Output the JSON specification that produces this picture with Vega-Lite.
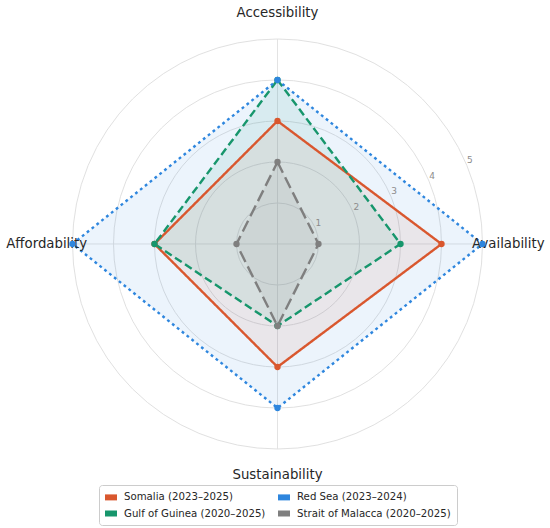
{
  "$schema": "https://vega.github.io/schema/vega-lite/v6.json",
  "width": 550,
  "height": 528,
  "autosize": "none",
  "padding": 0,
  "background": "white",
  "datasets": {
    "scores": [
      {"series": "Somalia (2023–2025)", "axis": "Accessibility", "value": 3},
      {"series": "Somalia (2023–2025)", "axis": "Availability", "value": 4},
      {"series": "Somalia (2023–2025)", "axis": "Sustainability", "value": 3},
      {"series": "Somalia (2023–2025)", "axis": "Affordability", "value": 3},
      {"series": "Gulf of Guinea (2020–2025)", "axis": "Accessibility", "value": 4},
      {"series": "Gulf of Guinea (2020–2025)", "axis": "Availability", "value": 3},
      {"series": "Gulf of Guinea (2020–2025)", "axis": "Sustainability", "value": 2},
      {"series": "Gulf of Guinea (2020–2025)", "axis": "Affordability", "value": 3},
      {"series": "Red Sea (2023–2024)", "axis": "Accessibility", "value": 4},
      {"series": "Red Sea (2023–2024)", "axis": "Availability", "value": 5},
      {"series": "Red Sea (2023–2024)", "axis": "Sustainability", "value": 4},
      {"series": "Red Sea (2023–2024)", "axis": "Affordability", "value": 5},
      {"series": "Strait of Malacca (2020–2025)", "axis": "Accessibility", "value": 2},
      {"series": "Strait of Malacca (2020–2025)", "axis": "Availability", "value": 1},
      {"series": "Strait of Malacca (2020–2025)", "axis": "Sustainability", "value": 2},
      {"series": "Strait of Malacca (2020–2025)", "axis": "Affordability", "value": 1}
    ],
    "grid": [{"r": 1}, {"r": 2}, {"r": 3}, {"r": 4}, {"r": 5}],
    "axes": [
      {"axis": "Accessibility"},
      {"axis": "Availability"},
      {"axis": "Sustainability"},
      {"axis": "Affordability"}
    ]
  },
  "layer": [
    {
      "data": {"name": "grid"},
      "mark": {"type": "point", "shape": "circle", "filled": false, "stroke": "#dcdcdc", "strokeWidth": 0.9, "opacity": 1},
      "encoding": {
        "x": {"datum": 0, "type": "quantitative", "scale": {"domain": [-6.768, 6.646], "nice": false, "zero": false}, "axis": null},
        "y": {"datum": 0, "type": "quantitative", "scale": {"domain": [-6.927, 5.951], "nice": false, "zero": false}, "axis": null},
        "size": {"field": "r", "type": "quantitative", "scale": {"type": "pow", "exponent": 2, "domain": [0, 5], "range": [0, 168100]}, "legend": null}
      }
    },
    {
      "data": {"name": "axes"},
      "transform": [
        {"calculate": "indexof(['Accessibility','Availability','Sustainability','Affordability'], datum.axis)", "as": "idx"},
        {"calculate": "PI/2 - datum.idx*PI/2", "as": "ang"},
        {"calculate": "5*cos(datum.ang)", "as": "ex"},
        {"calculate": "5*sin(datum.ang)", "as": "ey"}
      ],
      "mark": {"type": "rule", "stroke": "#e0e0e0", "strokeWidth": 0.9},
      "encoding": {
        "x": {"field": "ex", "type": "quantitative"},
        "y": {"field": "ey", "type": "quantitative"},
        "x2": {"datum": 0},
        "y2": {"datum": 0}
      }
    },
    {
      "data": {"name": "scores"},
      "transform": [
        {"calculate": "indexof(['Accessibility','Availability','Sustainability','Affordability'], datum.axis)", "as": "idx"},
        {"calculate": "PI/2 - datum.idx*PI/2", "as": "ang"},
        {"calculate": "datum.value*cos(datum.ang)", "as": "px"},
        {"calculate": "datum.value*sin(datum.ang)", "as": "py"}
      ],
      "mark": {"type": "line", "interpolate": "linear-closed", "filled": true, "strokeWidth": 0, "fillOpacity": 0.09},
      "encoding": {
        "x": {"field": "px", "type": "quantitative"},
        "y": {"field": "py", "type": "quantitative"},
        "order": {"field": "idx", "type": "quantitative"},
        "color": {
          "field": "series", "type": "nominal",
          "scale": {"domain": ["Somalia (2023–2025)", "Red Sea (2023–2024)", "Gulf of Guinea (2020–2025)", "Strait of Malacca (2020–2025)"], "range": ["#d9572e", "#2e86de", "#17966c", "#7f7f7f"]}
        }
      }
    },
    {
      "data": {"name": "scores"},
      "transform": [
        {"calculate": "indexof(['Accessibility','Availability','Sustainability','Affordability'], datum.axis)", "as": "idx"},
        {"calculate": "PI/2 - datum.idx*PI/2", "as": "ang"},
        {"calculate": "datum.value*cos(datum.ang)", "as": "px"},
        {"calculate": "datum.value*sin(datum.ang)", "as": "py"},
        {"calculate": "datum.series", "as": "style"}
      ],
      "mark": {"type": "line", "interpolate": "linear-closed", "strokeWidth": 2.4},
      "encoding": {
        "x": {"field": "px", "type": "quantitative"},
        "y": {"field": "py", "type": "quantitative"},
        "order": {"field": "idx", "type": "quantitative"},
        "color": {
          "field": "series", "type": "nominal",
          "scale": {"domain": ["Somalia (2023–2025)", "Red Sea (2023–2024)", "Gulf of Guinea (2020–2025)", "Strait of Malacca (2020–2025)"], "range": ["#d9572e", "#2e86de", "#17966c", "#7f7f7f"]}
        },
        "strokeDash": {
          "field": "style", "type": "nominal", "legend": null,
          "scale": {"domain": ["Somalia (2023–2025)", "Red Sea (2023–2024)", "Gulf of Guinea (2020–2025)", "Strait of Malacca (2020–2025)"], "range": [[1, 0], [2.8, 3.4], [8, 4], [12, 5]]}
        }
      }
    },
    {
      "data": {"name": "axes"},
      "transform": [
        {"calculate": "indexof(['Accessibility','Availability','Sustainability','Affordability'], datum.axis)", "as": "idx"},
        {"calculate": "PI/2 - datum.idx*PI/2", "as": "ang"},
        {"calculate": "5.63*cos(datum.ang)", "as": "lx"},
        {"calculate": "5.63*sin(datum.ang)", "as": "ly"}
      ],
      "mark": {"type": "text", "font": "DejaVu Sans", "fontSize": 13.3, "color": "#262626", "align": "center", "baseline": "middle"},
      "encoding": {
        "x": {"field": "lx", "type": "quantitative"},
        "y": {"field": "ly", "type": "quantitative"},
        "text": {"field": "axis", "type": "nominal"}
      }
    },
    {
      "data": {"name": "grid"},
      "transform": [
        {"calculate": "datum.r*cos(PI/8)", "as": "tx"},
        {"calculate": "datum.r*sin(PI/8)", "as": "ty"}
      ],
      "mark": {"type": "text", "font": "DejaVu Sans", "fontSize": 9, "color": "#8c8c8c", "align": "center", "baseline": "middle", "dx": 3, "dy": -5.5},
      "encoding": {
        "x": {"field": "tx", "type": "quantitative"},
        "y": {"field": "ty", "type": "quantitative"},
        "text": {"field": "r", "type": "quantitative"}
      }
    },
    {
      "data": {"name": "scores"},
      "transform": [
        {"calculate": "indexof(['Accessibility','Availability','Sustainability','Affordability'], datum.axis)", "as": "idx"},
        {"calculate": "PI/2 - datum.idx*PI/2", "as": "ang"},
        {"calculate": "datum.value*cos(datum.ang)", "as": "px"},
        {"calculate": "datum.value*sin(datum.ang)", "as": "py"}
      ],
      "mark": {"type": "circle", "size": 40, "opacity": 1},
      "encoding": {
        "x": {"field": "px", "type": "quantitative"},
        "y": {"field": "py", "type": "quantitative"},
        "color": {
          "field": "series", "type": "nominal",
          "scale": {"domain": ["Somalia (2023–2025)", "Red Sea (2023–2024)", "Gulf of Guinea (2020–2025)", "Strait of Malacca (2020–2025)"], "range": ["#d9572e", "#2e86de", "#17966c", "#7f7f7f"]},
          "legend": {
            "orient": "none",
            "direction": "horizontal",
            "legendX": 99,
            "legendY": 485,
            "columns": 2,
            "title": null,
            "symbolType": "M-1,-0.5H1V0.5H-1Z",
            "symbolSize": 144,
            "symbolOpacity": 1,
            "symbolStrokeWidth": 0,
            "labelFont": "DejaVu Sans",
            "labelFontSize": 10.2,
            "labelColor": "#262626",
            "labelOffset": 7,
            "columnPadding": 12,
            "rowPadding": 4.5,
            "padding": 6,
            "strokeColor": "#cccccc",
            "cornerRadius": 3,
            "fillColor": "white",
            "encode": {
              "symbols": {"update": {"fill": {"scale": "color", "field": "value"}, "fillOpacity": {"value": 1}, "opacity": {"value": 1}}}
            }
          }
        }
      }
    }
  ],
  "config": {
    "view": {"stroke": null},
    "font": "DejaVu Sans"
  }
}
